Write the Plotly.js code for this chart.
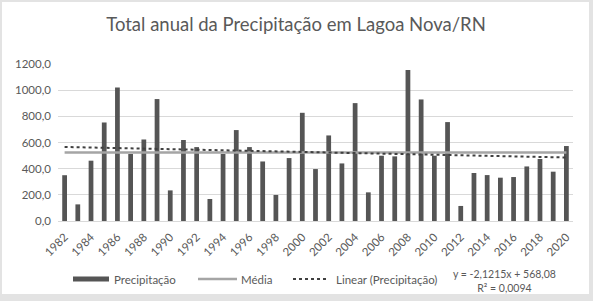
<!DOCTYPE html>
<html>
<head>
<meta charset="utf-8">
<script src="https://cdn.plot.ly/plotly-3.0.1.min.js"></script>
<style>
  html, body { margin: 0; padding: 0; background: #e3e3e3; width: 593px; height: 301px; overflow: hidden; }
  #chart { position: absolute; left: 2px; top: 2px; width: 587px; height: 292px; background: #ffffff; }
</style>
</head>
<body>
<div id="chart"></div>
<script>
// ---- data ----
const years = [1982,1983,1984,1985,1986,1987,1988,1989,1990,1991,1992,1993,1994,1995,1996,1997,1998,1999,
               2000,2001,2002,2003,2004,2005,2006,2007,2008,2009,2010,2011,2012,2013,2014,2015,2016,2017,2018,2019,2020];
const precipitacao = [350,127,461,753,1021,512,623,932,234,619,565,168,512,695,565,455,199,481,
                      827,397,654,440,901,219,499,494,1154,929,499,756,115,367,351,331,336,417,474,377,573];
// trendline equation shown on the chart (x = 1..n)
const trendSlope = -2.1215;
const trendIntercept = 568.08;
const trendR2 = 0.0094;
const yTicks = [0,200,400,600,800,1000,1200];

const titleText = 'Total anual da Precipitação em Lagoa Nova/RN';
const seriesNames = ['Precipitação', 'Média', 'Linear (Precipitação)'];

// ---- derived series ----
const media = precipitacao.reduce((a, b) => a + b, 0) / precipitacao.length;
const mediaY = years.map(() => media);
const trendY = years.map((_, i) => trendIntercept + trendSlope * (i + 1));

function fmt(v, d) { return v.toFixed(d).replace('.', ','); }
const eqText = 'y = ' + fmt(trendSlope, 4) + 'x + ' + fmt(trendIntercept, 2) + '<br>R² = ' + fmt(trendR2, 4);

// ---- layout geometry ----
const W = 587, H = 292;
const M = { l: 56, r: 16, t: 62, b: 73 };
const PW = W - M.l - M.r, PH = H - M.t - M.b;
// convert page pixels (reference picture coords) to paper coords
const offX = 2, offY = 2;
const px = x => (x - offX - M.l) / PW;
const py = y => (H - M.b - (y - offY)) / PH;

const txt = '#595959';
const fontFam = 'Lato, "Open Sans", sans-serif';
const legY = 279;

const traces = [
  { type: 'bar', x: years, y: precipitacao, name: seriesNames[0],
    marker: { color: '#555555' }, hoverinfo: 'skip' },
  { type: 'scatter', mode: 'lines', x: years, y: mediaY, name: seriesNames[1],
    line: { color: '#a5a5a5', width: 2.5 }, hoverinfo: 'skip' },
  { type: 'scatter', mode: 'lines', x: years, y: trendY, name: seriesNames[2],
    line: { color: '#404040', width: 2, dash: 'dot' }, hoverinfo: 'skip' }
];

const layout = {
  width: W, height: H,
  margin: M,
  paper_bgcolor: '#ffffff', plot_bgcolor: '#ffffff',
  separators: ',.',
  showlegend: false,
  bargap: 0.64,
  font: { family: fontFam, color: txt },
  title: { text: titleText, font: { family: fontFam, size: 18.5, color: txt },
           x: 0.5 + (296 - offX - W / 2) / W, xanchor: 'center', xref: 'container',
           y: 1 - (25 - offY) / H, yanchor: 'middle', yref: 'container' },
  xaxis: { type: 'linear', range: [years[0] - 0.5, years[years.length - 1] + 0.5],
           tick0: years[0], dtick: 2, tickangle: -45,
           tickfont: { family: fontFam, size: 11.5, color: txt },
           showgrid: false, zeroline: false, showline: true, linecolor: '#d9d9d9', linewidth: 1,
           ticks: '', ticklabelstandoff: 4, fixedrange: true },
  yaxis: { range: [0, 1200], tickvals: yTicks, tickformat: '.1f',
           tickfont: { family: fontFam, size: 11.5, color: txt },
           showgrid: true, gridcolor: '#d9d9d9', gridwidth: 1,
           zeroline: false, showline: false, ticks: '', ticklabelstandoff: 6, fixedrange: true },
  shapes: [
    { type: 'rect', xref: 'paper', yref: 'paper', x0: px(73), x1: px(109), y0: py(281.5), y1: py(276.5),
      fillcolor: '#555555', line: { width: 0 } },
    { type: 'line', xref: 'paper', yref: 'paper', x0: px(198), x1: px(237), y0: py(legY), y1: py(legY),
      line: { color: '#a5a5a5', width: 2.5 } },
    { type: 'line', xref: 'paper', yref: 'paper', x0: px(293), x1: px(329), y0: py(legY), y1: py(legY),
      line: { color: '#404040', width: 2, dash: 'dot' } }
  ],
  annotations: [
    { xref: 'paper', yref: 'paper', x: px(112), y: py(legY), xanchor: 'left', yanchor: 'middle',
      text: seriesNames[0], showarrow: false, font: { family: fontFam, size: 11.5, color: txt } },
    { xref: 'paper', yref: 'paper', x: px(239), y: py(legY), xanchor: 'left', yanchor: 'middle',
      text: seriesNames[1], showarrow: false, font: { family: fontFam, size: 11.5, color: txt } },
    { xref: 'paper', yref: 'paper', x: px(334), y: py(legY), xanchor: 'left', yanchor: 'middle',
      text: seriesNames[2], showarrow: false, font: { family: fontFam, size: 11.5, color: txt } },
    { xref: 'paper', yref: 'paper', x: px(504), y: py(281), xanchor: 'center', yanchor: 'middle',
      text: eqText, align: 'center', showarrow: false,
      font: { family: fontFam, size: 10.5, color: txt } }
  ]
};

Plotly.newPlot('chart', traces, layout, { displayModeBar: false, staticPlot: true });
</script>
</body>
</html>
